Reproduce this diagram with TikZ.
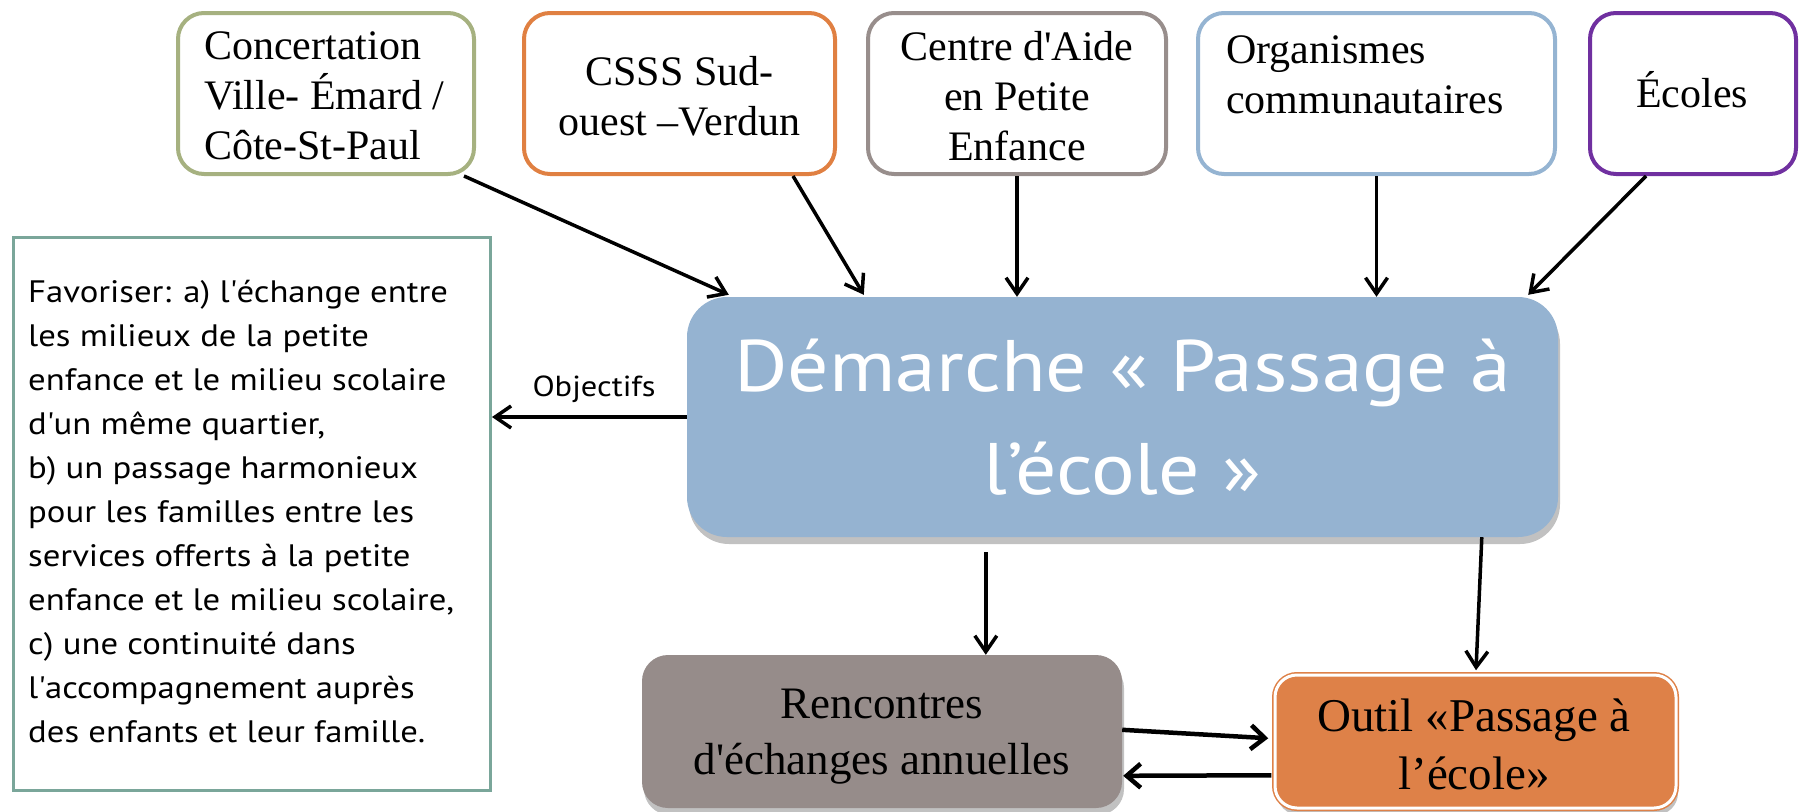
\documentclass[tikz,border=0pt]{standalone}
\usepackage{fontspec}
\setmainfont{Liberation Serif}
\newfontfamily\gsans[FakeStretch=1.12]{PT Sans}
\usetikzlibrary{arrows.meta,calc,shadows}
\definecolor{cgreen}{RGB}{166,177,128}
\definecolor{corange}{RGB}{224,128,66}
\definecolor{cgray}{RGB}{152,142,140}
\definecolor{cblue}{RGB}{149,180,210}
\definecolor{cpurple}{RGB}{112,48,160}
\definecolor{mainblue}{RGB}{149,179,209}
\definecolor{objteal}{RGB}{122,166,154}
\definecolor{rencgray}{RGB}{150,140,138}
\definecolor{outilor}{RGB}{222,129,72}
\newcommand\sq{\textquotesingle}
\tikzset{
  topbox/.style={draw, line width=4pt, rounded corners=26pt, fill=white, minimum height=161pt, inner sep=0pt},
  sertext/.style={font=\fontsize{42}{50}\selectfont, inner sep=0pt},
  bottext/.style={font=\fontsize{45}{56}\selectfont, inner sep=0pt, align=center},
  arr/.style={line width=3.5pt, -{Straight Barb[length=16pt,width=22pt]}},
  arrb/.style={line width=4.5pt, -{Straight Barb[length=14pt,width=24pt]}},
  shad/.style={drop shadow={shadow xshift=2pt, shadow yshift=-7pt, opacity=0.35, fill=black!70}},
}
\begin{document}
\begin{tikzpicture}[x=1pt,y=-1pt]
\useasboundingbox (0,0) rectangle (1804,811);

% top boxes
\node[topbox, draw=cgreen, minimum width=296pt] (conc) at (326,93.5) {};
\node[topbox, draw=corange, minimum width=311pt] (csss) at (679.5,93.5) {};
\node[topbox, draw=cgray, minimum width=298pt] (cent) at (1017,93.5) {};
\node[topbox, draw=cblue, minimum width=357pt] (org) at (1376.5,93.5) {};
\node[topbox, draw=cpurple, minimum width=206pt] (ecol) at (1693,93.5) {};

\node[sertext, align=left, anchor=west] (conct) at (204,96) {Concertation\\Ville- Émard /\\Côte-St-Paul};
\node[sertext, align=center] (cssst) at (679.5,96) {CSSS Sud-\\ouest –Verdun};
\node[sertext, align=center] (centt) at (1017,96) {Centre d\sq Aide\\en Petite\\Enfance};
\node[sertext, align=left, anchor=west] (orgt) at (1226,75) {Organismes\\communautaires};
\node[sertext, anchor=base] (ecolt) at (1692,107) {Écoles};

% main box
\node[shad, fill=mainblue, rounded corners=40pt, minimum width=871pt, minimum height=240pt,
      text=white, align=center, inner sep=0pt, font=\gsans\fontsize{73}{103}\selectfont] (main) at (1122.5,417)
      {Démarche « Passage à\\l’école »};

% objectives box
\node[draw=objteal, line width=3pt, minimum width=477pt, minimum height=553pt, inner sep=0pt] (obj) at (252,514) {};
\node[anchor=north west, align=left, inner sep=0pt, font=\gsans\fontsize{31}{44}\selectfont] (objt) at (28,280)
 {Favoriser: a) l\sq échange entre\\
  les milieux de la petite\\
  enfance et le milieu scolaire\\
  d\sq un même quartier,\\
  b) un passage harmonieux\\
  pour les familles entre les\\
  services offerts à la petite\\
  enfance et le milieu scolaire,\\
  c) une continuité dans\\
  l\sq accompagnement auprès\\
  des enfants et leur famille.};
\node[inner sep=0pt, font=\gsans\fontsize{29}{30}\selectfont] (objl) at (594,389) {Objectifs};

% bottom boxes
\node[shad, fill=rencgray, rounded corners=26pt, minimum width=480pt, minimum height=153pt, inner sep=0pt] (renc) at (882,731.5) {};
\node[bottext] (renct) at (882,737) {Rencontres\\d\sq échanges annuelles};
\node[shad, fill=outilor, draw=outilor, line width=1.5pt, double=white, double distance=3pt,
      rounded corners=22pt, minimum width=401pt, minimum height=133pt, inner sep=0pt] (outil) at (1475.5,741.5) {};
\node[bottext, font=\fontsize{47}{58}\selectfont] (outilt) at (1474,744) {Outil «Passage à\\l’école»};

% connectors
\draw[arr] ($(conc.south east)+(-12,0)$) -- ($(main.north west)+(42,-2)$);
\draw[arr] ($(csss.south)+(113.5,0)$) -- ($(main.north west)+(177,-2)$);
\draw[arr] (cent.south) -- (cent.south |- main.north);
\draw[arr] (org.south) -- (org.south |- main.north);
\draw[arr] ($(ecol.south)+(-47,0)$) -- ($(main.north east)+(-30,-2)$);
\draw[arr] (main.west) -- (main.west -| obj.east);
\draw[arr] ($(main.south west)+(299,15)$) -- ($(renc.north west)+(344,0)$);
\draw[arr] ($(main.south west)+(795,0)$) -- ($(outil.north)+(0.5,-4)$);
\draw[arrb] ($(renc.north east)+(0,75)$) -- ($(outil.north west)+(-6,64)$);
\draw[arrb] ($(outil.north west)+(-3,101)$) -- ($(renc.north east)+(1,121)$);
\end{tikzpicture}
\end{document}
